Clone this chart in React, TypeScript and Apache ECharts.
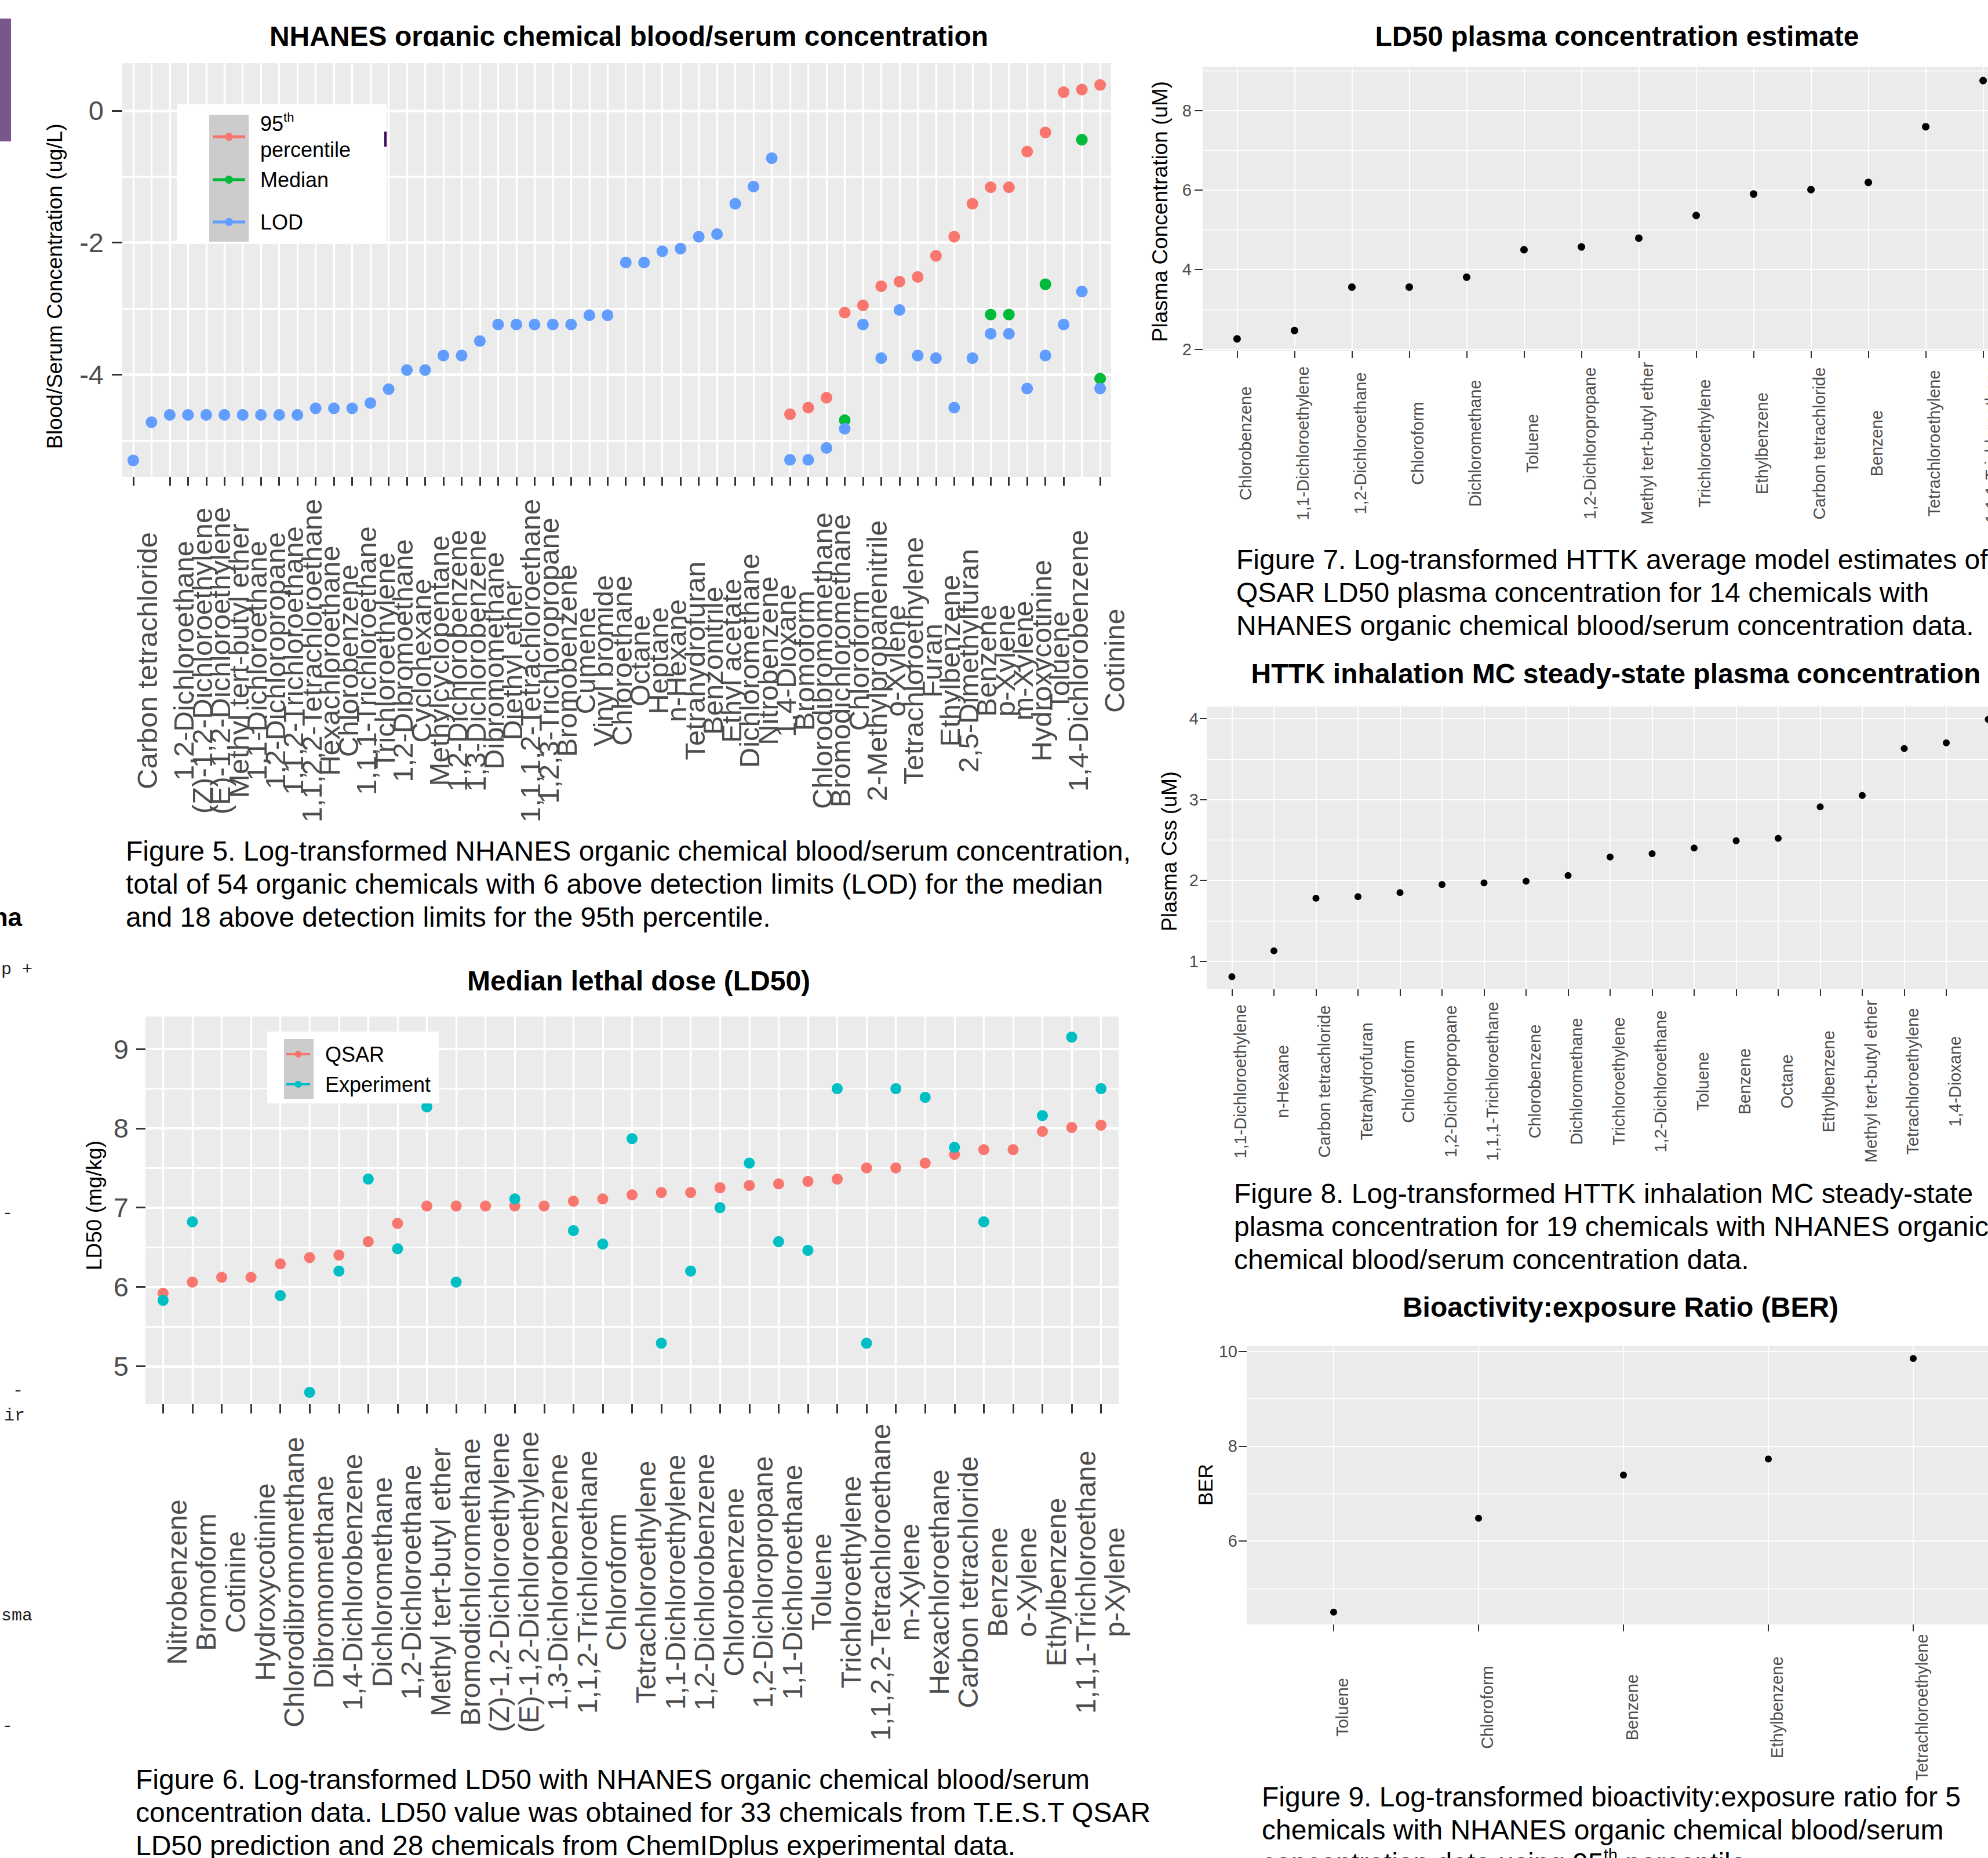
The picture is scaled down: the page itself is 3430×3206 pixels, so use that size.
import React, { useEffect, useRef } from "react";
import * as echarts from "echarts";

const FONT = '"Liberation Sans", Arial, Helvetica, sans-serif';
const MONO = '"Liberation Mono", "Courier New", monospace';
const AXIS_TEXT = "#4D4D4D";
const TICK = "#333333";
const PANEL = "#EBEBEB";

// ---------- Figure 5: NHANES blood/serum concentration ----------
const nhanesChemicals = [
  "Carbon tetrachloride", "1,1-Dichloroethylene", "1,2-Dichloroethane", "(Z)-1,2-Dichloroethylene",
  "(E)-1,2-Dichloroethylene", "Methyl tert-butyl ether", "1,1-Dichloroethane", "1,2-Dichloropropane",
  "1,1,2-Trichloroethane", "1,1,2,2-Tetrachloroethane", "Hexachloroethane", "Chlorobenzene",
  "1,1,1-Trichloroethane", "Trichloroethylene", "1,2-Dibromoethane", "Cyclohexane",
  "Methylcyclopentane", "1,2-Dichlorobenzene", "1,3-Dichlorobenzene", "Dibromomethane",
  "Diethyl ether", "1,1,1,2-Tetrachloroethane", "1,2,3-Trichloropropane", "Bromobenzene",
  "Cumene", "Vinyl bromide", "Chloroethane", "Octane", "Heptane", "n-Hexane",
  "Tetrahydrofuran", "Benzonitrile", "Ethyl acetate", "Dichloromethane", "Nitrobenzene",
  "1,4-Dioxane", "Bromoform", "Chlorodibromomethane", "Bromodichloromethane", "Chloroform",
  "2-Methylpropanenitrile", "o-Xylene", "Tetrachloroethylene", "Furan", "Ethylbenzene",
  "2,5-Dimethylfuran", "Benzene", "p-Xylene", "m-Xylene", "Hydroxycotinine", "Toluene",
  "1,4-Dichlorobenzene", "Nitromethane", "Cotinine",
];
const nhanesLOD = [
  -5.30, -4.72, -4.61, -4.61, -4.61, -4.61, -4.61, -4.61, -4.61, -4.61,
  -4.51, -4.51, -4.51, -4.43, -4.22, -3.93, -3.93, -3.71, -3.71, -3.49,
  -3.24, -3.24, -3.24, -3.24, -3.24, -3.10, -3.10, -2.30, -2.30, -2.13,
  -2.09, -1.91, -1.87, -1.41, -1.15, -0.72, -5.29, -5.29, -5.11, -4.82,
  -3.24, -3.75, -3.02, -3.71, -3.75, -4.50, -3.75, -3.38, -3.38, -4.21,
  -3.71, -3.24, -2.74, -4.21,
];
const nhanes95th = [
  null, null, null, null, null, null, null, null, null, null,
  null, null, null, null, null, null, null, null, null, null,
  null, null, null, null, null, null, null, null, null, null,
  null, null, null, null, null, null, -4.60, -4.50, -4.35, -3.06,
  -2.95, -2.66, -2.59, -2.52, -2.20, -1.91, -1.41, -1.16, -1.16, -0.62,
  -0.33, 0.28, 0.32, 0.39,
];
const nhanesMedian = [
  null, null, null, null, null, null, null, null, null, null,
  null, null, null, null, null, null, null, null, null, null,
  null, null, null, null, null, null, null, null, null, null,
  null, null, null, null, null, null, null, null, null, -4.69,
  null, null, null, null, null, null, null, -3.09, -3.09, null,
  -2.63, null, -0.44, -4.06,
];
const nhanesYTicks = [-4, -2, 0];

// ---------- Figure 6: Median lethal dose ----------
const ld50Chemicals = [
  "Nitrobenzene", "Bromoform", "Cotinine", "Hydroxycotinine", "Chlorodibromomethane",
  "Dibromomethane", "1,4-Dichlorobenzene", "Dichloromethane", "1,2-Dichloroethane",
  "Methyl tert-butyl ether", "Bromodichloromethane", "(Z)-1,2-Dichloroethylene",
  "(E)-1,2-Dichloroethylene", "1,3-Dichlorobenzene", "1,1,2-Trichloroethane", "Chloroform",
  "Tetrachloroethylene", "1,1-Dichloroethylene", "1,2-Dichlorobenzene", "Chlorobenzene",
  "1,2-Dichloropropane", "1,1-Dichloroethane", "Toluene", "Trichloroethylene",
  "1,1,2,2-Tetrachloroethane", "m-Xylene", "Hexachloroethane", "Carbon tetrachloride",
  "Benzene", "o-Xylene", "Ethylbenzene", "1,1,1-Trichloroethane", "p-Xylene",
];
const ld50QSAR = [
  5.92, 6.06, 6.12, 6.12, 6.29, 6.37, 6.40, 6.57, 6.80, 7.02, 7.02,
  7.02, 7.02, 7.02, 7.08, 7.11, 7.16, 7.19, 7.19, 7.25, 7.28, 7.30,
  7.33, 7.36, 7.50, 7.50, 7.56, 7.67, 7.73, 7.73, 7.96, 8.01, 8.04,
];
const ld50Experiment = [
  5.83, 6.82, null, null, 5.89, 4.67, 6.20, 7.36, 6.48, 8.27, 6.06,
  null, 7.11, null, 6.71, 6.54, 7.87, 5.29, 6.20, 7.00, 7.56, 6.57,
  6.46, 8.50, 5.29, 8.50, 8.39, 7.76, 6.82, null, 8.16, 9.15, 8.50,
];
const ld50YTicks = [5, 6, 7, 8, 9];

// ---------- Figure 7: LD50 plasma concentration ----------
const plasmaChemicals = [
  "Chlorobenzene", "1,1-Dichloroethylene", "1,2-Dichloroethane", "Chloroform",
  "Dichloromethane", "Toluene", "1,2-Dichloropropane", "Methyl tert-butyl ether",
  "Trichloroethylene", "Ethylbenzene", "Carbon tetrachloride", "Benzene",
  "Tetrachloroethylene", "1,1,1-Trichloroethane",
];
const plasmaConc = [2.26, 2.47, 3.56, 3.56, 3.81, 4.50, 4.57, 4.79, 5.36, 5.90, 6.01, 6.19, 7.59, 8.75];
const plasmaYTicks = [2, 4, 6, 8];

// ---------- Figure 8: HTTK inhalation Css ----------
const cssChemicals = [
  "1,1-Dichloroethylene", "n-Hexane", "Carbon tetrachloride", "Tetrahydrofuran", "Chloroform",
  "1,2-Dichloropropane", "1,1,1-Trichloroethane", "Chlorobenzene", "Dichloromethane",
  "Trichloroethylene", "1,2-Dichloroethane", "Toluene", "Benzene", "Octane", "Ethylbenzene",
  "Methyl tert-butyl ether", "Tetrachloroethylene", "1,4-Dioxane", "Cyclohexane",
];
const cssValues = [0.81, 1.13, 1.78, 1.80, 1.85, 1.95, 1.97, 1.99, 2.06, 2.29, 2.33, 2.40, 2.49, 2.52, 2.91, 3.05, 3.63, 3.70, 3.99];
const cssYTicks = [1, 2, 3, 4];

// ---------- Figure 9: BER ----------
const berChemicals = ["Toluene", "Chloroform", "Benzene", "Ethylbenzene", "Tetrachloroethylene"];
const berValues = [4.50, 6.48, 7.39, 7.73, 9.85];
const berYTicks = [6, 8, 10];

const pairs = (vals: (number | null)[]) =>
  vals.flatMap((v, i) => (v == null ? [] : [[i, v]]));

type PanelSpec = {
  left: number; top: number; width: number; height: number;
  cats: string[]; yMin: number; yMax: number; yStep: number; yTicks: number[];
  xLabelSize: number; xLabelMargin: number; yLabelSize: number; yLabelMargin: number;
  xTickLen: number; yTickLen: number; tickW: number;
  majorW: number; minorW: number; vertW: number;
};

function buildPanel(p: PanelSpec, gi: number) {
  const idx = p.cats.map((_, i) => i);
  const grid = {
    left: p.left, top: p.top, width: p.width, height: p.height,
    show: true, backgroundColor: PANEL, borderWidth: 0, borderColor: "transparent",
    containLabel: false, outerBoundsMode: "none",
  };
  const xAxis = {
    type: "value", gridIndex: gi, position: "bottom", min: -0.6, max: p.cats.length - 0.4,
    minInterval: 1, maxInterval: 1,
    axisLine: { show: false, onZero: false },
    axisTick: { show: true, length: p.xTickLen, customValues: idx, lineStyle: { color: TICK, width: p.tickW } },
    axisLabel: {
      show: true, customValues: idx, rotate: 90, align: "center", verticalAlign: "top",
      margin: p.xLabelMargin, fontSize: p.xLabelSize, fontFamily: FONT, color: AXIS_TEXT,
      hideOverlap: false, showMinLabel: true, showMaxLabel: true,
      formatter: (v: number) => {
        const r = Math.round(v);
        return Math.abs(r - v) < 1e-6 && p.cats[r] !== undefined ? p.cats[r] : "";
      },
    },
    splitLine: { show: true, lineStyle: { color: "#FFFFFF", width: p.vertW } },
    minorSplitLine: { show: false },
  };
  const yAxis = {
    type: "value", gridIndex: gi, position: "left", min: p.yMin, max: p.yMax,
    minInterval: p.yStep, maxInterval: p.yStep,
    axisLine: { show: false, onZero: false },
    axisTick: { show: true, length: p.yTickLen, customValues: p.yTicks, lineStyle: { color: TICK, width: p.tickW } },
    axisLabel: {
      show: true, customValues: p.yTicks, margin: p.yLabelMargin, fontSize: p.yLabelSize,
      fontFamily: FONT, color: AXIS_TEXT, hideOverlap: false,
      formatter: (v: number) => (p.yTicks.some((t) => Math.abs(t - v) < 1e-6) ? String(v) : ""),
    },
    splitLine: { show: true, lineStyle: { color: "#FFFFFF", width: p.majorW } },
    minorTick: { show: false, splitNumber: 2 },
    minorSplitLine: { show: true, lineStyle: { color: "#FFFFFF", width: p.minorW } },
  };
  return { grid, xAxis, yAxis };
}

const panels: PanelSpec[] = [
  { left: 211, top: 109, width: 1706, height: 714, cats: nhanesChemicals, yMin: -5.55, yMax: 0.72, yStep: 2, yTicks: nhanesYTicks,
    xLabelSize: 49, xLabelMargin: 317, yLabelSize: 47, yLabelMargin: 32, xTickLen: 15, yTickLen: 18, tickW: 3,
    majorW: 4.5, minorW: 3.5, vertW: 3.3 },
  { left: 251, top: 1754, width: 1679, height: 669, cats: ld50Chemicals, yMin: 4.52, yMax: 9.41, yStep: 1, yTicks: ld50YTicks,
    xLabelSize: 48, xLabelMargin: 307, yLabelSize: 47, yLabelMargin: 29, xTickLen: 16, yTickLen: 16, tickW: 3,
    majorW: 3.8, minorW: 3, vertW: 3.4 },
  { left: 2075, top: 115, width: 1406, height: 491, cats: plasmaChemicals, yMin: 1.95, yMax: 9.1, yStep: 2, yTicks: plasmaYTicks,
    xLabelSize: 29, xLabelMargin: 159, yLabelSize: 29, yLabelMargin: 19, xTickLen: 12, yTickLen: 14, tickW: 2,
    majorW: 2.2, minorW: 1.4, vertW: 1.8 },
  { left: 2082, top: 1219, width: 1392, height: 488, cats: cssChemicals, yMin: 0.655, yMax: 4.15, yStep: 1, yTicks: cssYTicks,
    xLabelSize: 29, xLabelMargin: 159, yLabelSize: 29, yLabelMargin: 14, xTickLen: 12, yTickLen: 12, tickW: 2,
    majorW: 2.2, minorW: 1.4, vertW: 1.8 },
  { left: 2151, top: 2322, width: 1300, height: 481, cats: berChemicals, yMin: 4.24, yMax: 10.12, yStep: 2, yTicks: berYTicks,
    xLabelSize: 29, xLabelMargin: 143, yLabelSize: 29, yLabelMargin: 16, xTickLen: 12, yTickLen: 14, tickW: 2,
    majorW: 2.2, minorW: 1.4, vertW: 1.8 },
];

const ICON5 = "path://M0,4.5H56V9.5H0Z M21,7A7,7 0 1,1 35,7A7,7 0 1,1 21,7Z";
const ICON6 = "path://M0,4H41V8H0Z M14.5,6A6,6 0 1,1 26.5,6A6,6 0 1,1 14.5,6Z";

function captionLines(x: number, ys: number[], lines: any[]) {
  return lines.map((t, i) => {
    const rich = typeof t !== "string";
    return {
      type: "text", x, y: ys[i], z: 5,
      style: rich
        ? { text: t.text, rich: t.rich, fontSize: 48, fontFamily: FONT, fill: "#000", align: "left", verticalAlign: "middle" }
        : { text: t, fontSize: 48, fontFamily: FONT, fill: "#000", align: "left", verticalAlign: "middle" },
    };
  });
}

function yTitle(x: number, y: number, text: string, size: number) {
  return {
    type: "text", x, y, rotation: Math.PI / 2, z: 5,
    style: { text, fontSize: size, fontFamily: FONT, fill: "#000", align: "center", verticalAlign: "middle" },
  };
}

function titleAt(text: string, cx: number, cy: number) {
  return {
    text, left: cx, top: cy - 24, textAlign: "center", padding: 0,
    textStyle: { fontSize: 48, fontWeight: "bold", fontFamily: FONT, color: "#000", lineHeight: 48 },
  };
}

export default function App() {
  const ref = useRef<HTMLDivElement | null>(null);
  useEffect(() => {
    if (!ref.current) return;
    const chart = echarts.init(ref.current, null, { renderer: "svg", width: 3430, height: 3206 });
    const built = panels.map((p, i) => buildPanel(p, i));

    const scatter = (name: string, gi: number, vals: (number | null)[], color: string, size: number) => ({
      type: "scatter", name, xAxisIndex: gi, yAxisIndex: gi, data: pairs(vals),
      symbol: "circle", symbolSize: size, itemStyle: { color, opacity: 1 },
      emphasis: { disabled: true }, silent: true, z: 2,
    });

    const legendText5 = { fontSize: 36, fontFamily: FONT, color: "#000", lineHeight: 40, padding: [0, 0, 0, 21] };
    const legendText6 = { fontSize: 36, fontFamily: FONT, color: "#000", lineHeight: 42, padding: [0, 0, 0, 21] };

    const option: any = {
      animation: false,
      backgroundColor: "#FFFFFF",
      textStyle: { fontFamily: FONT },
      title: [
        titleAt("NHANES organic chemical blood/serum concentration", 1085, 62),
        titleAt("Median lethal dose (LD50)", 1102, 1692),
        titleAt("LD50 plasma concentration estimate", 2790, 62),
        titleAt("HTTK inhalation MC steady-state plasma concentration", 2788, 1162),
        titleAt("Bioactivity:exposure Ratio (BER)", 2796, 2255),
      ],
      grid: built.map((b) => b.grid),
      xAxis: built.map((b) => b.xAxis),
      yAxis: built.map((b) => b.yAxis),
      legend: [
        {
          data: ["95th percentile"], left: 367, top: 191, orient: "vertical", padding: 0,
          itemWidth: 56, itemHeight: 14, icon: ICON5, selectedMode: false, z: 8,
          formatter: () => "{n|95}{s|th}\n{n|percentile}",
          textStyle: {
            ...legendText5,
            rich: {
              n: { fontSize: 36, lineHeight: 45, fontFamily: FONT, color: "#000" },
              s: { fontSize: 22, lineHeight: 26, verticalAlign: "top", fontFamily: FONT, color: "#000" },
            },
          },
        },
        { data: ["Median"], left: 367, top: 290, orient: "vertical", padding: 0, itemWidth: 56, itemHeight: 14, icon: ICON5, selectedMode: false, z: 8, textStyle: legendText5 },
        { data: ["LOD"], left: 367, top: 363, orient: "vertical", padding: 0, itemWidth: 56, itemHeight: 14, icon: ICON5, selectedMode: false, z: 8, textStyle: legendText5 },
        { data: ["QSAR"], left: 494, top: 1798, orient: "vertical", padding: 0, itemWidth: 41, itemHeight: 12, icon: ICON6, selectedMode: false, z: 8, textStyle: legendText6 },
        { data: ["Experiment"], left: 494, top: 1850, orient: "vertical", padding: 0, itemWidth: 41, itemHeight: 12, icon: ICON6, selectedMode: false, z: 8, textStyle: legendText6 },
      ],
      series: [
        scatter("95th percentile", 0, nhanes95th, "#F8766D", 20),
        scatter("Median", 0, nhanesMedian, "#00BA38", 20),
        scatter("LOD", 0, nhanesLOD, "#619CFF", 20),
        scatter("QSAR", 1, ld50QSAR, "#F8766D", 19),
        scatter("Experiment", 1, ld50Experiment, "#00BFC4", 19),
        scatter("LD50 plasma concentration", 2, plasmaConc, "#000000", 13),
        scatter("Plasma Css", 3, cssValues, "#000000", 12),
        scatter("BER", 4, berValues, "#000000", 12),
      ],
      graphic: [
        // neighbouring page fragments at the left edge
        { type: "rect", shape: { x: 0, y: 32, width: 19, height: 212 }, style: { fill: "#77578C" }, z: 5 },
        { type: "text", x: 38, y: 1582, z: 5, style: { text: "na", fontSize: 44, fontWeight: "bold", fontFamily: FONT, fill: "#000", align: "right", verticalAlign: "middle" } },
        { type: "text", x: 2, y: 1673, z: 5, style: { text: "p +", fontSize: 30, fontFamily: MONO, fill: "#222", align: "left", verticalAlign: "middle" } },
        { type: "text", x: 4, y: 2094, z: 5, style: { text: "-", fontSize: 30, fontFamily: MONO, fill: "#222", align: "left", verticalAlign: "middle" } },
        { type: "text", x: 22, y: 2400, z: 5, style: { text: "-", fontSize: 30, fontFamily: MONO, fill: "#222", align: "left", verticalAlign: "middle" } },
        { type: "text", x: 7, y: 2443, z: 5, style: { text: "ir", fontSize: 30, fontFamily: MONO, fill: "#222", align: "left", verticalAlign: "middle" } },
        { type: "text", x: 2, y: 2788, z: 5, style: { text: "sma", fontSize: 30, fontFamily: MONO, fill: "#222", align: "left", verticalAlign: "middle" } },
        { type: "text", x: 4, y: 2979, z: 5, style: { text: "-", fontSize: 30, fontFamily: MONO, fill: "#222", align: "left", verticalAlign: "middle" } },
        // clipped descenders of the first title
        { type: "rect", shape: { x: 440, y: 80, width: 1320, height: 26 }, style: { fill: "#FFFFFF" }, z: 20 },
        // legend boxes
        { type: "rect", shape: { x: 305, y: 180, width: 362, height: 237 }, style: { fill: "#FFFFFF" }, z: 3 },
        { type: "rect", shape: { x: 361, y: 198, width: 68, height: 219 }, style: { fill: "#CCCCCC" }, z: 3 },
        { type: "rect", shape: { x: 663, y: 227, width: 4, height: 26 }, style: { fill: "#3D0A5C" }, z: 3 },
        { type: "rect", shape: { x: 461, y: 1780, width: 296, height: 124 }, style: { fill: "#FFFFFF" }, z: 3 },
        { type: "rect", shape: { x: 490, y: 1793, width: 51, height: 103 }, style: { fill: "#CCCCCC" }, z: 3 },
        // axis titles
        yTitle(94, 494, "Blood/Serum Concentration (ug/L)", 37),
        yTitle(162, 2080, "LD50 (mg/kg)", 37),
        yTitle(2001, 365, "Plasma Concentration (uM)", 37),
        yTitle(2017, 1469, "Plasma Css (uM)", 36),
        yTitle(2079, 2562, "BER", 35),
        // captions
        ...captionLines(217, [1468, 1525, 1582], [
          "Figure 5. Log-transformed NHANES organic chemical blood/serum concentration,",
          "total of 54 organic chemicals with 6 above detection limits (LOD) for the median",
          "and 18 above detection limits for the 95th percentile.",
        ]),
        ...captionLines(234, [3070, 3127, 3184], [
          "Figure 6. Log-transformed LD50 with NHANES organic chemical blood/serum",
          "concentration data. LD50 value was obtained for 33 chemicals from T.E.S.T QSAR",
          "LD50 prediction and 28 chemicals from ChemIDplus experimental data.",
        ]),
        ...captionLines(2133, [965, 1022, 1079], [
          "Figure 7. Log-transformed HTTK average model estimates of",
          "QSAR LD50 plasma concentration for 14 chemicals with",
          "NHANES organic chemical blood/serum concentration data.",
        ]),
        ...captionLines(2129, [2059, 2116, 2173], [
          "Figure 8. Log-transformed HTTK inhalation MC steady-state",
          "plasma concentration for 19 chemicals with NHANES organic",
          "chemical blood/serum concentration data.",
        ]),
        ...captionLines(2177, [3100, 3157, 3214], [
          "Figure 9. Log-transformed bioactivity:exposure ratio for 5",
          "chemicals with NHANES organic chemical blood/serum",
          {
            text: "{n|concentration data using 95}{s|th}{n| percentile.}",
            rich: {
              n: { fontSize: 48, fontFamily: FONT, fill: "#000", lineHeight: 56 },
              s: { fontSize: 29, fontFamily: FONT, fill: "#000", lineHeight: 30, verticalAlign: "top" },
            },
          },
        ]),
      ],
    };
    chart.setOption(option);
    return () => chart.dispose();
  }, []);
  return (
    <div
      ref={ref}
      style={{ position: "absolute", left: 0, top: 0, width: 3430, height: 3206, overflow: "hidden", background: "#fff" }}
    />
  );
}
